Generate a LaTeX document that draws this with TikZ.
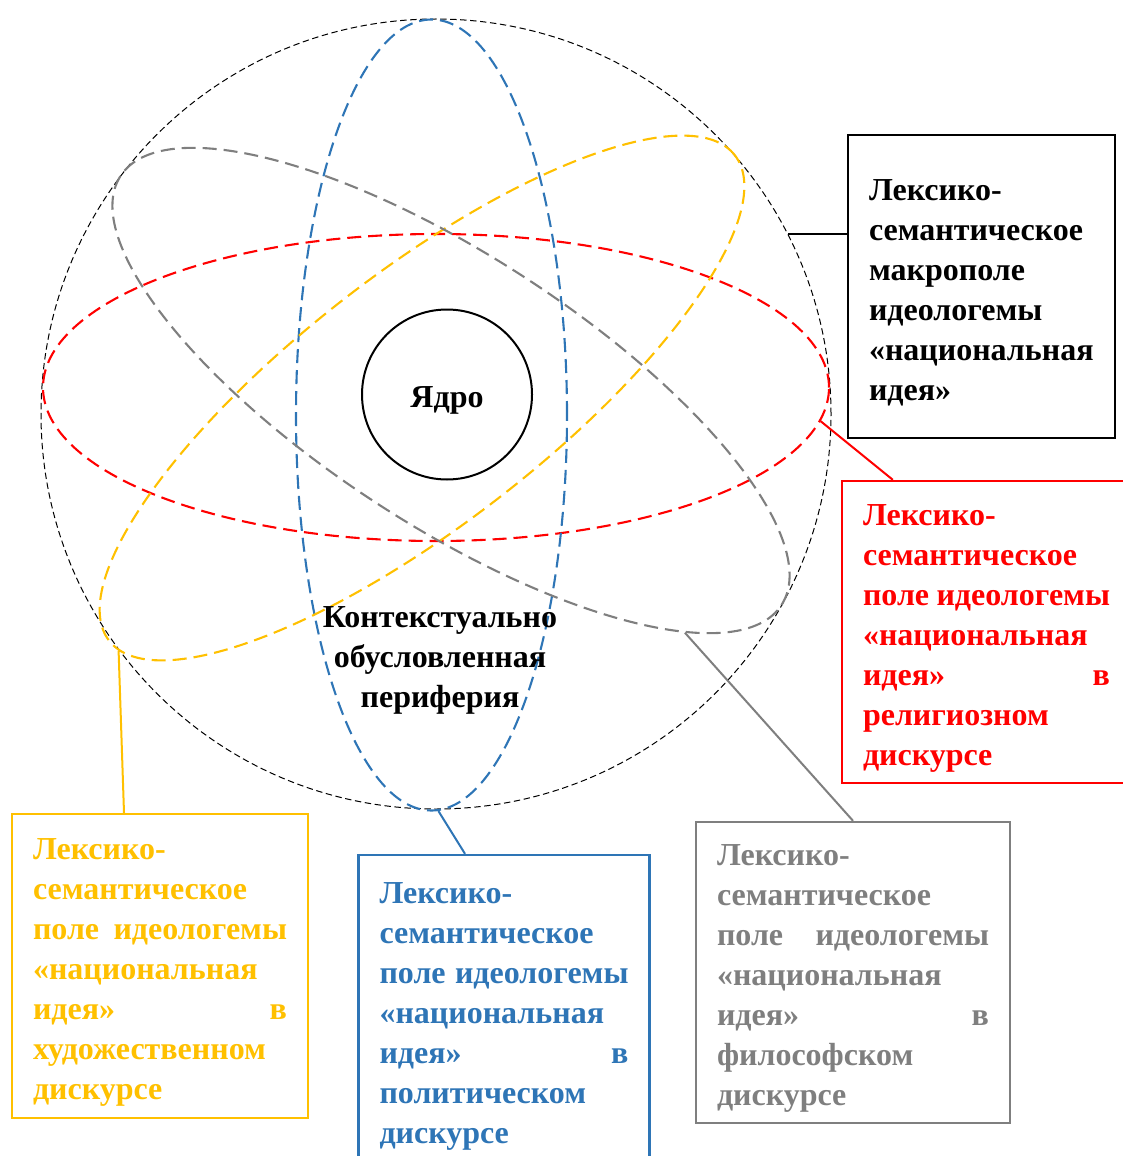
\documentclass[tikz,border=0pt]{standalone}
\usepackage{fontspec}
\setmainfont{Liberation Serif}
\usetikzlibrary{shapes.geometric}

\definecolor{fieldred}{HTML}{FF0000}
\definecolor{fieldblue}{HTML}{2E75B6}
\definecolor{fieldgold}{HTML}{FFC000}
\definecolor{fieldgray}{HTML}{7F7F7F}

\begin{document}
\begin{tikzpicture}[%
  x=0.5pt, y=-0.5pt, % one unit = one pixel of the scheme, y downwards
  every node/.style={font=\bfseries\fontsize{16}{20}\selectfont, inner sep=0pt},
  orbit/.style={ellipse, draw=#1, line width=1.05pt, dash pattern=on 7pt off 3.5pt}, % dashed fields
  fieldbox/.style={rectangle, draw=#1, text=#1, line width=1.2pt, align=left, inner xsep=10.5pt,
    execute at begin node={\rule{0pt}{16.5pt}}}, % text frames, text a bit lower
  link/.style={line width=1pt} % connectors
]
\useasboundingbox (0,0) rectangle (1123,1156);
\clip (0,0) rectangle (1123,1156);

% Macrofield
\node [circle, draw, line width=0.5pt, dash pattern=on 3.2pt off 1.8pt, minimum size=395pt] (macro) at (436,414) {};

% Fields
\node [orbit=fieldred, minimum width=393pt, minimum height=153.5pt] (relig) at (436,387.5) {};
\node [orbit=fieldblue, minimum width=135.5pt, minimum height=395.5pt] (polit) at (431.5,415) {};
\node [orbit=fieldgold, minimum width=396pt, minimum height=126pt, rotate=37.8] (art) at (422,398) {};
\node [orbit=fieldgray, minimum width=394pt, minimum height=135pt, rotate=-33] (philos) at (451,390.5) {};

% Core and periphery
\node [circle, draw, line width=1pt, minimum size=85pt] (core) at (447,394.5) {\raisebox{-3pt}[\height][\depth]{Ядро}};
\node [align=center] (periph) at (440,660) {Контекстуально\\обусловленная\\периферия};

% Frames
\node [fieldbox=black, text width=112.5pt, minimum height=151.5pt] (macrobox) at (981.5,286.5) {%
  Лексико-\\семантическое\\макрополе\\идеологемы\\«национальная\\идея»};
\node [fieldbox=fieldred, text width=123.5pt, minimum height=151pt] (religbox) at (986.5,632) {%
  Лексико-\\семантическое\\поле\hfill идеологемы\\«национальная\\идея»\hfill в\\религиозном\\дискурсе};
\node [fieldbox=fieldgray, text width=136pt, minimum height=150.5pt] (philosbox) at (853,972.5) {%
  Лексико-\\семантическое\\поле\hfill идеологемы\\«национальная\\идея»\hfill в\\философском\\дискурсе};
\node [fieldbox=fieldblue, text width=124.5pt, minimum height=155pt] (politbox) at (504,1010) {%
  Лексико-\\семантическое\\поле\hfill идеологемы\\«национальная\\идея»\hfill в\\политическом\\дискурсе};
\node [fieldbox=fieldgold, text width=127pt, minimum height=152pt] (artbox) at (160,966) {%
  Лексико-\\семантическое\\поле\hfill идеологемы\\«национальная\\идея»\hfill в\\художественном\\дискурсе};

% Connectors
\draw [link] (macro.27.6) -- (macro.27.6 -| macrobox.west);
\draw [link, fieldred] (relig.-5.65) -- ([xshift=26pt]religbox.north west);
\draw [link, fieldgray] (philos.-13) -- (philosbox.north);
\draw [link, fieldblue] (polit.-89) -- ([xshift=-19.5pt]politbox.north);
\draw [link, fieldgold] (art.182) -- ([xshift=-18pt]artbox.north);

\end{tikzpicture}
\end{document}
